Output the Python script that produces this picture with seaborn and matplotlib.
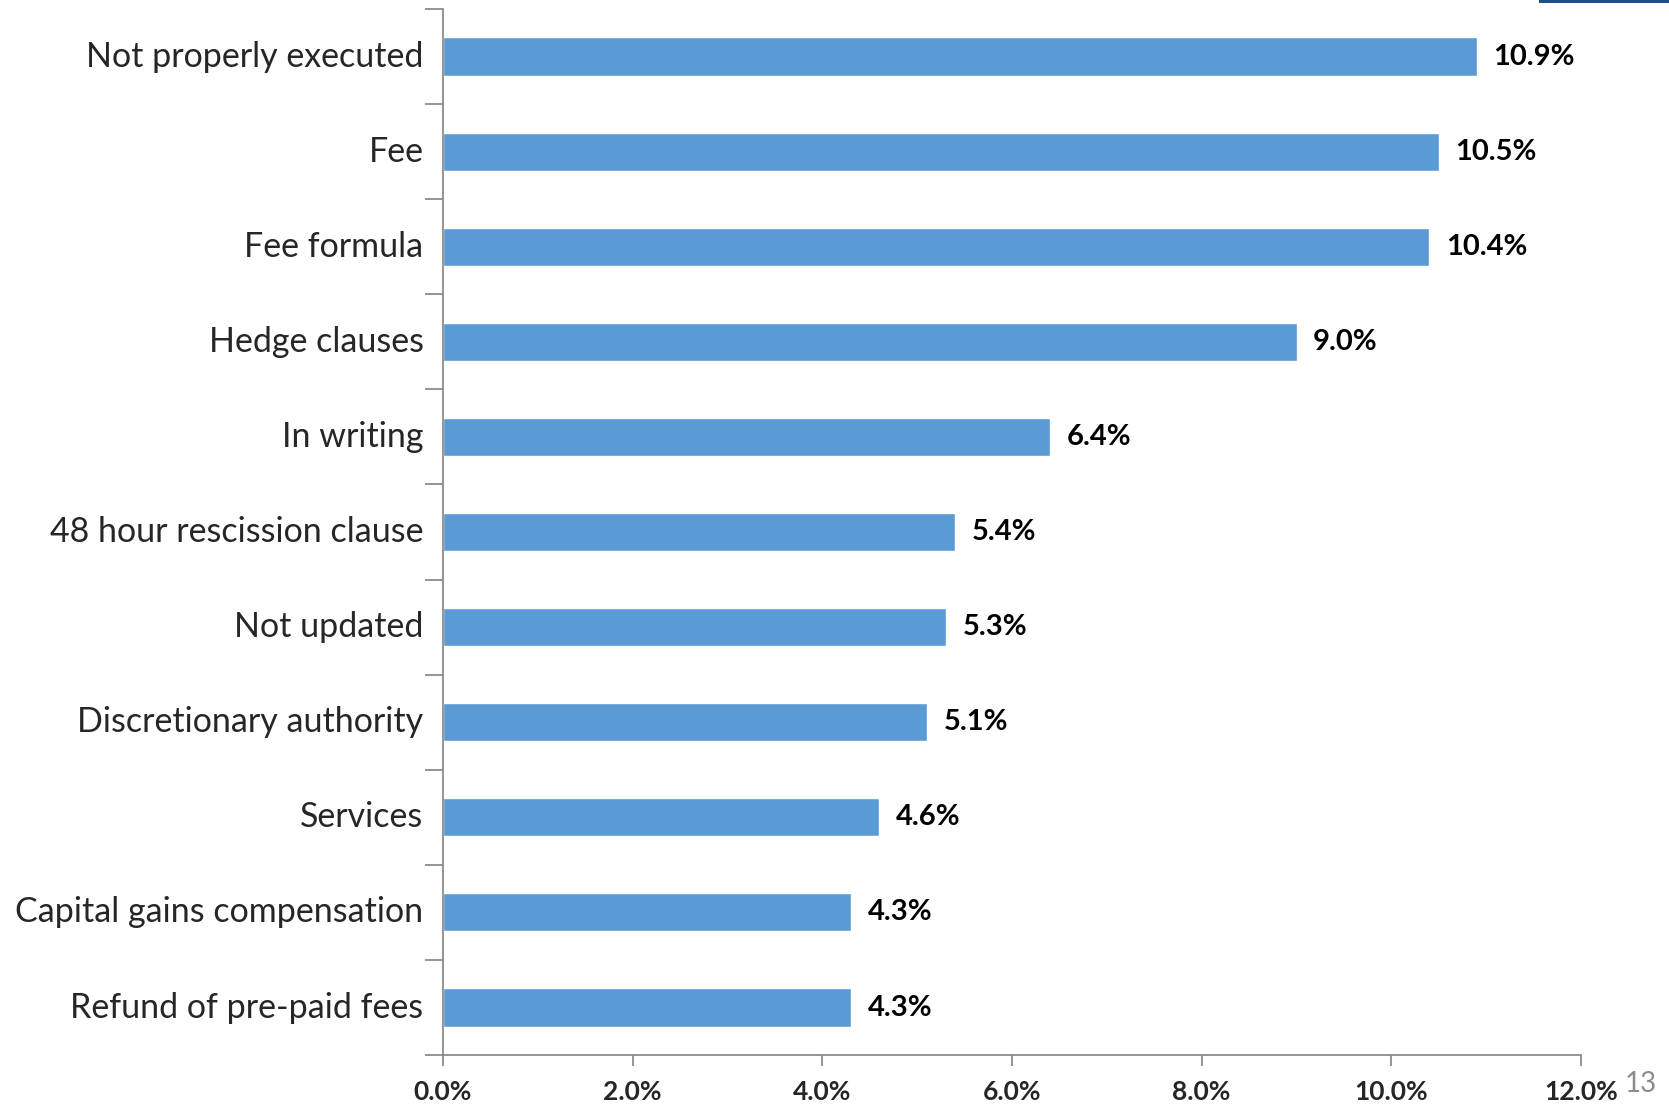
import numpy as np
import pandas as pd
import matplotlib
matplotlib.use("Agg")
import matplotlib.pyplot as plt
from matplotlib.ticker import FixedLocator, FuncFormatter
import seaborn as sns

categories = [
    "Not properly executed",
    "Fee",
    "Fee formula",
    "Hedge clauses",
    "In writing",
    "48 hour rescission clause",
    "Not updated",
    "Discretionary authority",
    "Services",
    "Capital gains compensation",
    "Refund of pre-paid fees",
]
shares = [10.9, 10.5, 10.4, 9.0, 6.4, 5.4, 5.3, 5.1, 4.6, 4.3, 4.3]
x_ticks = [0, 2, 4, 6, 8, 10, 12]
page_number = "13"

sns.set_style("white")
plt.rcParams["font.family"] = ["Lato", "DejaVu Sans"]

df = pd.DataFrame({"category": categories, "share": shares})

fig = plt.figure(figsize=(16.69, 11.05), dpi=100)
ax = fig.add_axes([0.2654, 0.0452, 0.6819, 0.9467])

sns.barplot(data=df, x="share", y="category", orient="h", color="#5B9BD5",
            width=0.4, saturation=1, ax=ax, order=categories)

n = len(categories)
ax.set_xlim(0, 12)
ax.set_ylim(n - 0.5, -0.5)
ax.set_xlabel("")
ax.set_ylabel("")

for s in ["top", "right"]:
    ax.spines[s].set_visible(False)
for s in ["left", "bottom"]:
    ax.spines[s].set_color("#8C8C8C")
    ax.spines[s].set_linewidth(1.3)

# x axis: percentage ticks pointing outward
ax.xaxis.set_major_locator(FixedLocator(x_ticks))
ax.xaxis.set_major_formatter(FuncFormatter(lambda v, p: f"{v:.1f}%"))
ax.tick_params(axis="x", which="major", direction="out", length=8, width=1.3,
               color="#8C8C8C", pad=10, labelsize=19, bottom=True)
for lbl in ax.get_xticklabels():
    lbl.set_fontweight("bold")

# y axis: category labels, tick marks on category boundaries
ax.tick_params(axis="y", which="major", length=0, pad=14, labelsize=24.5)
ax.yaxis.set_minor_locator(FixedLocator(np.arange(-0.5, n, 1.0)))
ax.tick_params(axis="y", which="minor", direction="out", length=13, width=1.3,
               color="#8C8C8C", left=True)
for lbl in ax.get_yticklabels():
    lbl.set_verticalalignment("center")

# value labels at the end of each bar
for i, v in enumerate(shares):
    ax.annotate(f"{v:.1f}%", xy=(v, i), xytext=(12, 0), textcoords="offset points",
                ha="left", va="center", fontsize=21, fontweight="bold",
                color="black")

# slide decorations
fig.add_artist(plt.Rectangle((1539 / 1669, 1 - 3 / 1105), 130 / 1669, 3 / 1105,
                             transform=fig.transFigure, color="#1F4E8C", lw=0))
fig.text(1641 / 1669, 1 - 1084 / 1105, page_number, ha="center", va="center",
         fontsize=20, color="#8C8C8C")

fig.savefig("out.png", dpi=100)
